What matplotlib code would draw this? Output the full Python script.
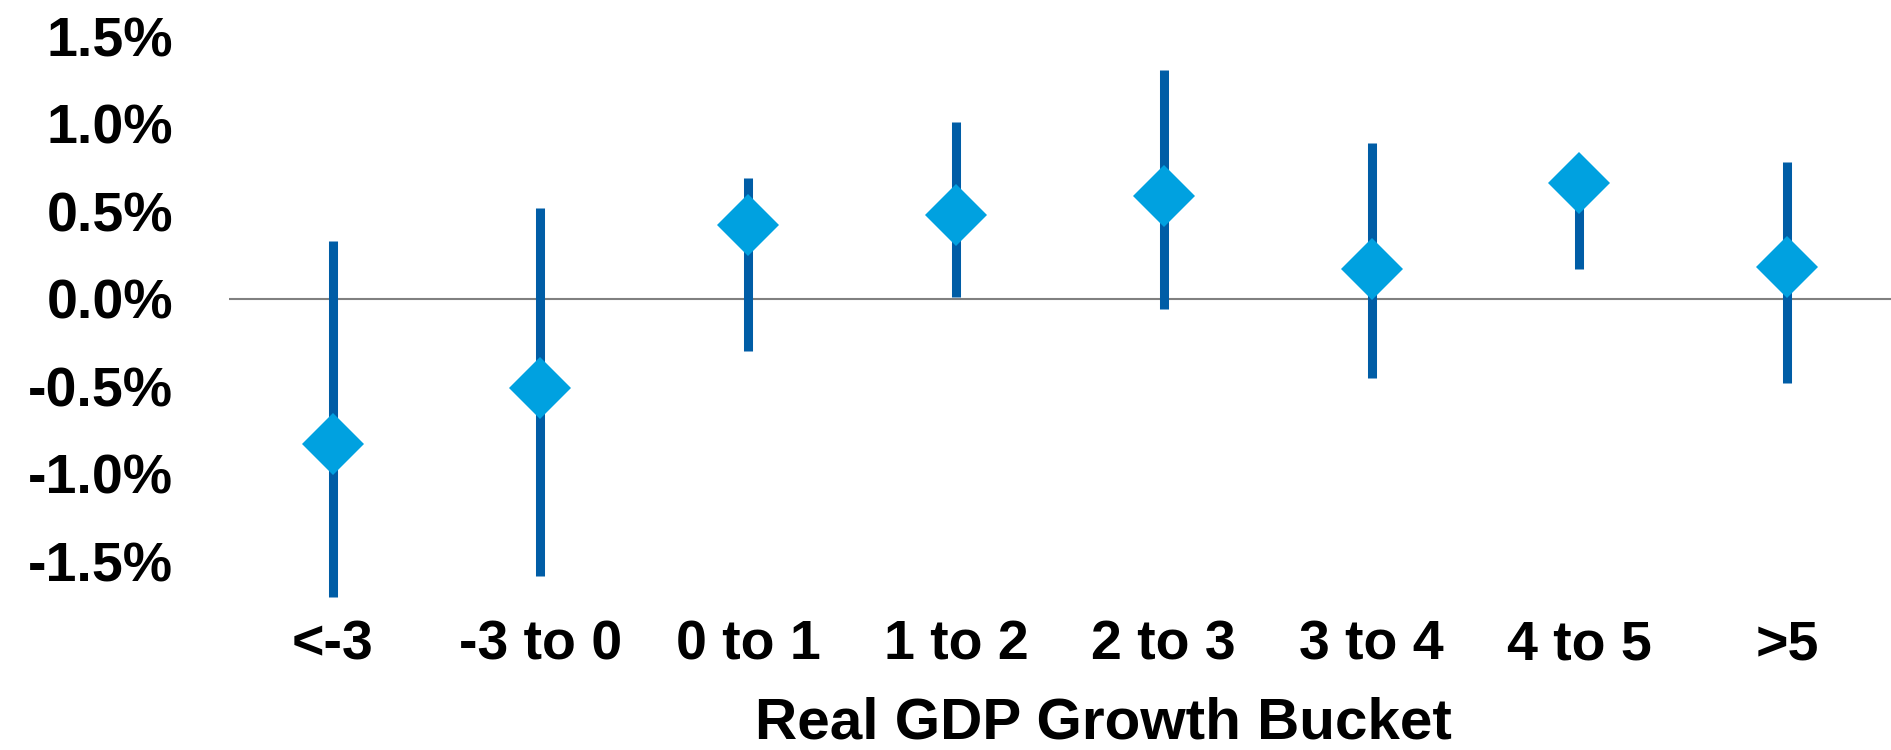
import numpy as np
import matplotlib
matplotlib.use("Agg")
import matplotlib.pyplot as plt

buckets = ["<-3", "-3 to 0", "0 to 1", "1 to 2", "2 to 3", "3 to 4", "4 to 5", ">5"]
mid = [-0.83, -0.51, 0.42, 0.48, 0.59, 0.17, 0.66, 0.18]
high = [0.33, 0.52, 0.69, 1.01, 1.31, 0.89, 0.75, 0.78]
low = [-1.70, -1.58, -0.30, 0.01, -0.06, -0.45, 0.17, -0.48]
yticks = [-1.5, -1.0, -0.5, 0.0, 0.5, 1.0, 1.5]

plt.rcParams['font.family'] = ['Liberation Sans', 'DejaVu Sans']

fig = plt.figure(figsize=(18.91, 7.5), dpi=100)
ax = fig.add_axes([0.121, 0.193, 0.879, 0.770])

x = np.arange(len(buckets))
ax.axhline(0, color="#808080", lw=1.5, zorder=1)
ax.vlines(x, low, high, color="#005DA6", lw=6.5, zorder=2)
ax.plot(x, mid, linestyle="none", marker="D", ms=32, color="#00A1E0",
        markeredgewidth=0, zorder=3)

ax.set_xlim(-0.5, 7.5)
ax.set_ylim(-1.75, 1.55)
ax.set_yticks(yticks)
ax.set_yticklabels([f"{v:.1f}%" for v in yticks])
ax.set_xticks(x)
ax.set_xticklabels(buckets)
ax.tick_params(axis="y", length=0, pad=40, labelsize=40)
ax.tick_params(axis="x", length=0, pad=10, labelsize=40)
for lab in ax.get_xticklabels() + ax.get_yticklabels():
    lab.set_fontweight("bold")

for s in ax.spines.values():
    s.set_visible(False)

ax.set_xlabel("Real GDP Growth Bucket", fontsize=42, fontweight="bold")
ax.xaxis.set_label_coords(0.526, -0.158)

fig.savefig("out.png", dpi=100)
